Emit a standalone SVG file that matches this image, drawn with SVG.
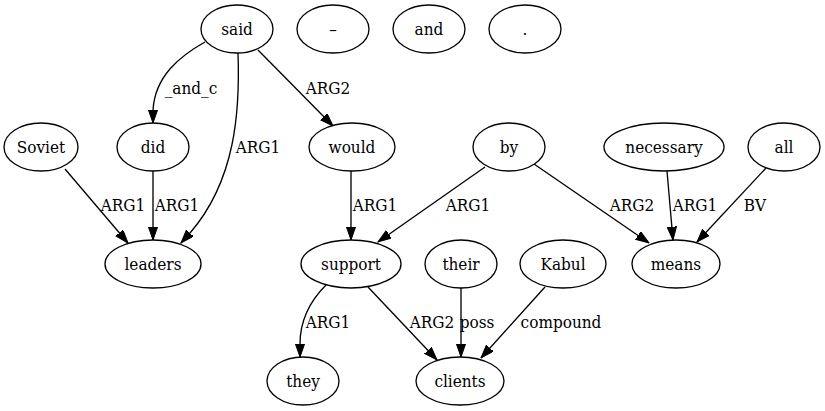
<svg xmlns="http://www.w3.org/2000/svg" width="825" height="411" viewBox="0 0 825 411">
<style>
.n ellipse{fill:#fff;stroke:#000;stroke-width:1.33}
text{font-family:"DejaVu Serif Condensed","DejaVu Serif",serif;font-stretch:condensed;font-size:17px;fill:#000}
.n text{text-anchor:middle}
.e path{fill:none;stroke:#000;stroke-width:1.33;marker-end:url(#ah)}
.e text{text-anchor:middle}
</style>
<defs>
<marker id="ah" markerUnits="userSpaceOnUse" markerWidth="14" markerHeight="10" refX="13.3" refY="4.67" orient="auto">
<path d="M0,0 L13.3,4.67 L0,9.33 z" fill="#000" stroke="#000" stroke-width="1"/>
</marker>
</defs>
<rect width="825" height="411" fill="#fff"/>
<g class="e" id="edges">
<path d="M205,42 C180,56 155,76 153,110 L153,123"/>
<text x="191" y="94">_and_c</text>
<path d="M238,53 C240,110 236,180 190,233 L181,243"/>
<text x="258" y="153">ARG1</text>
<path d="M258,50 L333,126"/>
<text x="328" y="94">ARG2</text>
<path d="M65,169 L128,243"/>
<text x="123" y="211">ARG1</text>
<path d="M153,171 L153,240"/>
<text x="177" y="211">ARG1</text>
<path d="M351,171 L351,240"/>
<text x="375" y="211">ARG1</text>
<path d="M485,167 L378,242"/>
<text x="468" y="211">ARG1</text>
<path d="M534,164 L649,243"/>
<text x="632" y="211">ARG2</text>
<path d="M667,171 L673,240"/>
<text x="695" y="211">ARG1</text>
<path d="M766,168 L697,242"/>
<text x="755" y="211">BV</text>
<path d="M326,285 C310,301 300,320 300,344 L300,357"/>
<text x="328" y="328">ARG1</text>
<path d="M368,287 L437,360"/>
<text x="432" y="328">ARG2</text>
<path d="M461,288 L461,357"/>
<text x="477" y="328">poss</text>
<path d="M545,287 L481,358"/>
<text x="561" y="328">compound</text>
</g>
<g class="n" id="n_said"><ellipse cx="237" cy="29" rx="36" ry="24"/><text x="237" y="35">said</text></g>
<g class="n" id="n_dash"><ellipse cx="333" cy="29" rx="36" ry="24"/><text x="333" y="35">–</text></g>
<g class="n" id="n_and"><ellipse cx="429" cy="29" rx="36" ry="24"/><text x="429" y="35">and</text></g>
<g class="n" id="n_dot"><ellipse cx="525" cy="29" rx="36" ry="24"/><text x="525" y="35">.</text></g>
<g class="n" id="n_soviet"><ellipse cx="41" cy="147" rx="37" ry="24"/><text x="41" y="153">Soviet</text></g>
<g class="n" id="n_did"><ellipse cx="153" cy="147" rx="36" ry="24"/><text x="153" y="153">did</text></g>
<g class="n" id="n_would"><ellipse cx="352" cy="147" rx="43" ry="24"/><text x="352" y="153">would</text></g>
<g class="n" id="n_by"><ellipse cx="509" cy="147" rx="36" ry="24"/><text x="509" y="153">by</text></g>
<g class="n" id="n_necessary"><ellipse cx="664" cy="147" rx="60" ry="24"/><text x="664" y="153">necessary</text></g>
<g class="n" id="n_all"><ellipse cx="784" cy="147" rx="36" ry="24"/><text x="784" y="153">all</text></g>
<g class="n" id="n_leaders"><ellipse cx="153" cy="264" rx="48" ry="24"/><text x="153" y="270">leaders</text></g>
<g class="n" id="n_support"><ellipse cx="351" cy="264" rx="50" ry="24"/><text x="351" y="270">support</text></g>
<g class="n" id="n_their"><ellipse cx="461" cy="264" rx="36" ry="24"/><text x="461" y="270">their</text></g>
<g class="n" id="n_kabul"><ellipse cx="563" cy="264" rx="43" ry="24"/><text x="563" y="270">Kabul</text></g>
<g class="n" id="n_means"><ellipse cx="676" cy="264" rx="44" ry="24"/><text x="676" y="270">means</text></g>
<g class="n" id="n_they"><ellipse cx="303" cy="381" rx="36" ry="24"/><text x="303" y="387">they</text></g>
<g class="n" id="n_clients"><ellipse cx="460" cy="381" rx="44" ry="24"/><text x="460" y="387">clients</text></g>
</svg>
